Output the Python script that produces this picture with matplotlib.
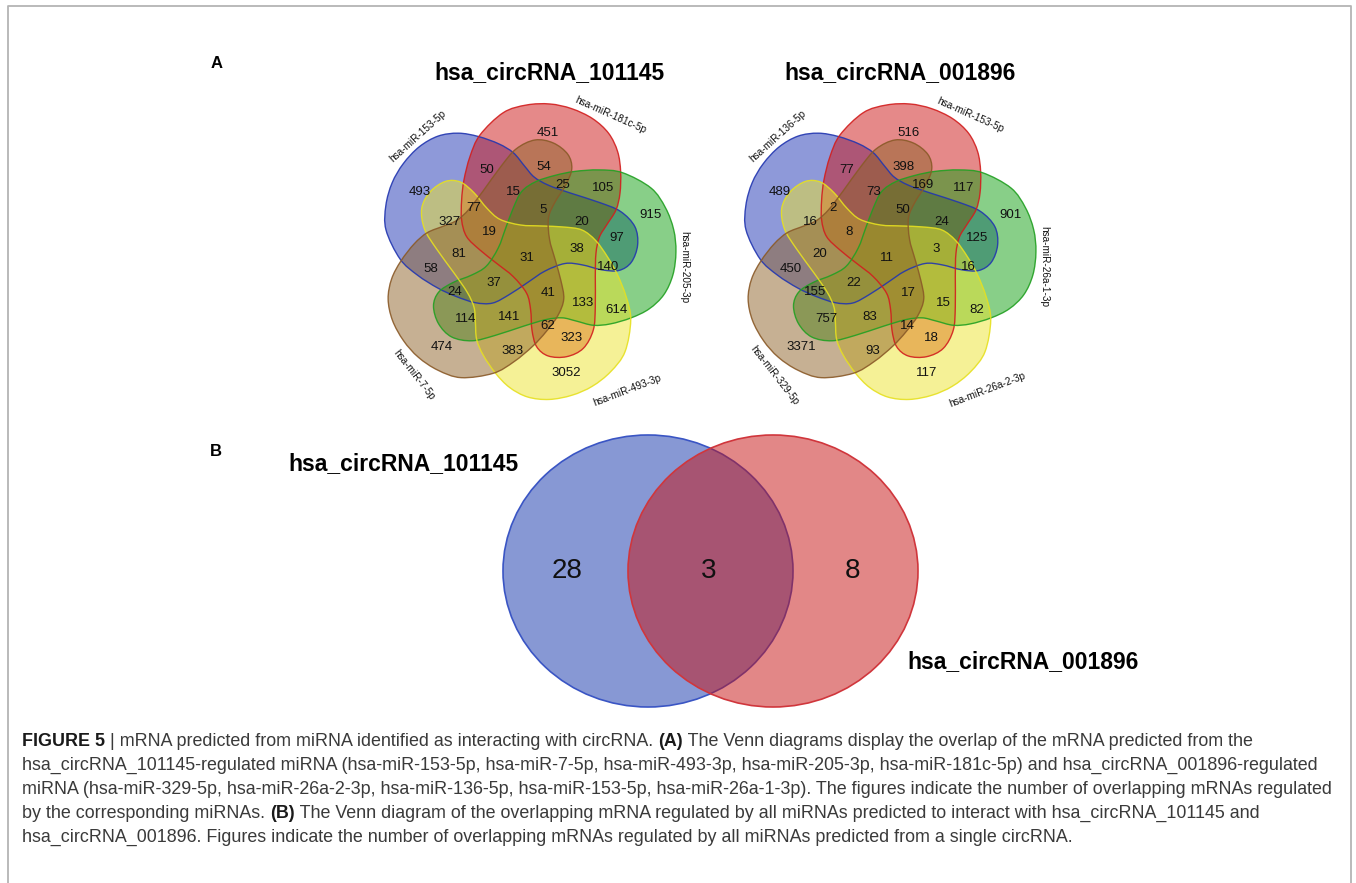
import numpy as np
import matplotlib
matplotlib.use("Agg")
import matplotlib.pyplot as plt
from matplotlib.path import Path
from matplotlib.patches import PathPatch, Ellipse

plt.rcParams['font.family'] = ['Liberation Sans', 'DejaVu Sans']

# counts per region, same region order in both 5-set diagrams
left_counts = [451, 50, 54, 493, 25, 105, 15, 5, 77, 327, 19, 20, 915, 97, 38, 31,
               81, 58, 140, 37, 24, 41, 133, 614, 114, 141, 62, 323, 474, 383, 3052]
right_counts = [516, 77, 398, 489, 169, 117, 73, 50, 2, 16, 8, 24, 901, 125, 3, 11,
                20, 450, 16, 22, 155, 17, 15, 82, 757, 83, 14, 18, 3371, 93, 117]
# set names in drawing order: blue, red, green, yellow, brown
left_sets = ["hsa-miR-153-5p", "hsa-miR-181c-5p", "hsa-miR-205-3p", "hsa-miR-493-3p", "hsa-miR-7-5p"]
right_sets = ["hsa-miR-136-5p", "hsa-miR-153-5p", "hsa-miR-26a-1-3p", "hsa-miR-26a-2-3p", "hsa-miR-329-5p"]
circ_names = ["hsa_circRNA_101145", "hsa_circRNA_001896"]
# two-way diagram: only 101145, shared, only 001896
two_way = [28, 3, 8]

# ---- layout (pixels, relative to diagram centre) ----
region_xy = [(23, -118.7), (-38.7, -82), (18, -84.7), (-105.3, -60.3), (37.3, -67),
             (78, -63.7), (-12, -60.3), (17.3, -42), (-52, -43.7), (-75.3, -30.3),
             (-36.3, -20.3), (56.3, -30.3), (124.7, -37), (91.3, -13.7), (51.3, -2.7),
             (2, 6.3), (-66, 2), (-94.7, 17.3), (83, 14.7), (-31.3, 31.3), (-70.3, 39.7),
             (23, 40.7), (58, 51.3), (91.3, 58), (-59.3, 67.3), (-16, 64.7), (22.3, 74),
             (46.3, 86.3), (-83.7, 95.3), (-12.7, 98.7), (41.3, 120.7)]
set_label_xy = [(-107.5, -116, 42), (85, -137, -24), (159, 14.7, -90),
                (102, 138, 21), (-111, 123, -52)]

# outline of the top (red) shape, the others are rotations of it
shape_pts = np.array([(330, 135), (400, 68), (470, 45), (540, 42), (605, 56), (668, 86),
                      (716, 130), (743, 185), (752, 245), (750, 310), (738, 360), (710, 405),
                      (688, 442), (678, 490), (676, 560), (676, 650), (670, 720), (640, 775),
                      (590, 800), (535, 798), (500, 770), (486, 720), (482, 660), (470, 610),
                      (430, 560), (380, 520), (330, 480), (290, 440), (275, 390), (275, 330),
                      (282, 270), (300, 200)], dtype=float)
shape_pts = (shape_pts - [466, 486]) / 3.0

face_cols = ['#1f35b5', '#cc1414', '#12a012', '#ece42e', '#8f6228']
edge_cols = ['#2236b0', '#d21e1e', '#22a022', '#e6e020', '#8a5a28']
rot_deg = [72, 0, -72, -144, 144]


def smooth_path(pts):
    n = len(pts)
    verts = [pts[0]]
    codes = [Path.MOVETO]
    for i in range(n):
        p0, p1, p2, p3 = pts[i - 1], pts[i], pts[(i + 1) % n], pts[(i + 2) % n]
        verts += [p1 + (p2 - p0) / 6, p2 - (p3 - p1) / 6, p2]
        codes += [Path.CURVE4] * 3
    return Path(verts, codes)


def rotate(pts, deg):
    # screen coords (y down); positive deg turns counter-clockwise on screen
    t = np.radians(deg)
    x, y = pts[:, 0], -pts[:, 1]
    xr = x * np.cos(t) - y * np.sin(t)
    yr = x * np.sin(t) + y * np.cos(t)
    return np.column_stack([xr, -yr])


fig = plt.figure(figsize=(13.56, 8.83), dpi=100)
ax = fig.add_axes([0, 0, 1, 1])
ax.set_xlim(0, 1356)
ax.set_ylim(883, 0)
ax.axis('off')

# frame around the figure (open at the bottom)
ax.plot([8, 8, 1351, 1351], [883, 6, 6, 883], color='#b4b4b4', lw=1.3)


def five_venn(cx, cy, counts, sets, title, title_x):
    for k in range(5):
        p = rotate(shape_pts, rot_deg[k]) + [cx, cy]
        ax.add_patch(PathPatch(smooth_path(p), facecolor=face_cols[k], alpha=0.5,
                               edgecolor='none', zorder=2))
        ax.add_patch(PathPatch(smooth_path(p), facecolor='none',
                               edgecolor=edge_cols[k], lw=1.0, alpha=0.9, zorder=3))
    for (dx, dy), v in zip(region_xy, counts):
        ax.text(cx + dx, cy + dy, str(v), ha='center', va='center',
                fontsize=9.5, color='#111111', zorder=4)
    for (dx, dy, r), name in zip(set_label_xy, sets):
        ax.text(cx + dx, cy + dy, name, ha='center', va='center', rotation=r,
                rotation_mode='anchor', fontsize=7.2, color='#111111', zorder=4)
    ax.text(title_x, 73, title, ha='center', va='center', fontsize=16.5,
            fontweight='bold', color='black')


five_venn(525.3, 252, left_counts, left_sets, circ_names[0], 549)
five_venn(885.3, 252, right_counts, right_sets, circ_names[1], 900)

ax.text(217, 63, 'A', ha='center', va='center', fontsize=12, fontweight='bold')
ax.text(216, 452, 'B', ha='center', va='center', fontsize=12, fontweight='bold')

# ---- B: two-set Venn ----
ax.add_patch(Ellipse((648, 571), 290, 272, facecolor='#1133ab', alpha=0.5, edgecolor='none'))
ax.add_patch(Ellipse((648, 571), 290, 272, facecolor='none', edgecolor='#3a55c4', lw=1.2))
ax.add_patch(Ellipse((773, 571), 290, 272, facecolor='#c71111', alpha=0.5, edgecolor='none'))
ax.add_patch(Ellipse((773, 571), 290, 272, facecolor='none', edgecolor='#d0363c', lw=1.2))
for x, v in zip([567, 709, 853], two_way):
    ax.text(x, 571, str(v), ha='center', va='center', fontsize=20, color='#111111')
ax.text(403, 464, circ_names[0], ha='center', va='center', fontsize=16.5, fontweight='bold')
ax.text(1023, 662, circ_names[1], ha='center', va='center', fontsize=16.5, fontweight='bold')

# ---- caption ----
caption = [
    [("FIGURE 5", True), (" | mRNA predicted from miRNA identified as interacting with circRNA. ", False),
     ("(A)", True), (" The Venn diagrams display the overlap of the mRNA predicted from the", False)],
    [("hsa_circRNA_101145-regulated miRNA (hsa-miR-153-5p, hsa-miR-7-5p, hsa-miR-493-3p, "
      "hsa-miR-205-3p, hsa-miR-181c-5p) and hsa_circRNA_001896-regulated", False)],
    [("miRNA (hsa-miR-329-5p, hsa-miR-26a-2-3p, hsa-miR-136-5p, hsa-miR-153-5p, hsa-miR-26a-1-3p). "
      "The figures indicate the number of overlapping mRNAs regulated", False)],
    [("by the corresponding miRNAs. ", False), ("(B)", True),
     (" The Venn diagram of the overlapping mRNA regulated by all miRNAs predicted to interact with "
      "hsa_circRNA_101145 and", False)],
    [("hsa_circRNA_001896. Figures indicate the number of overlapping mRNAs regulated by all miRNAs "
      "predicted from a single circRNA.", False)],
]
renderer = fig.canvas.get_renderer()
inv = ax.transData.inverted()
for i, line in enumerate(caption):
    x = 22
    y = 742 + i * 23.8
    for txt, bold in line:
        t = ax.text(x, y, txt, ha='left', va='center', fontsize=12.9,
                    fontweight='bold' if bold else 'normal',
                    color='#1a1a1a' if bold else '#3a3a3a')
        bb = t.get_window_extent(renderer)
        x = inv.transform((bb.x1, bb.y0))[0]

fig.savefig('out.png', dpi=100)
